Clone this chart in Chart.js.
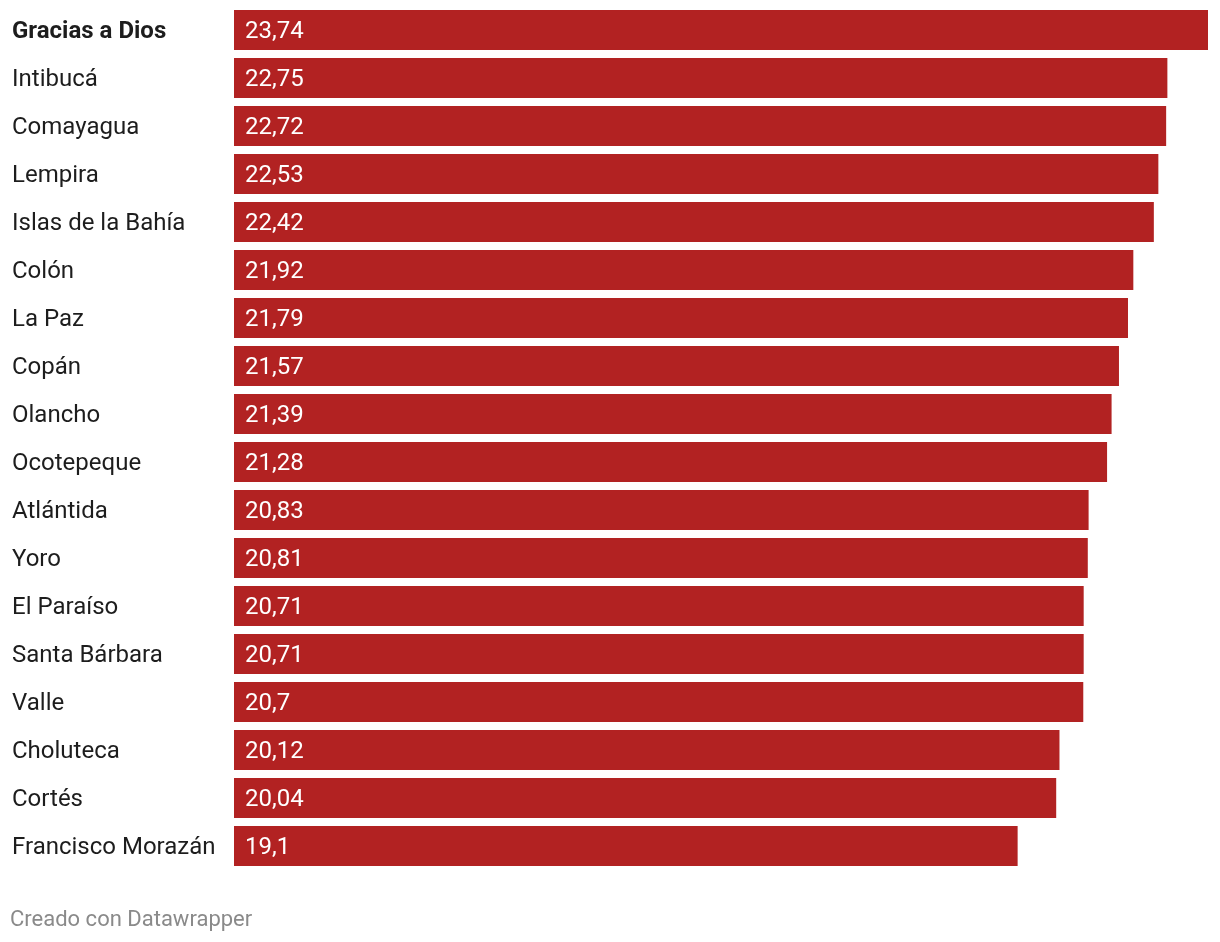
<!DOCTYPE html>
<html>
<head>
<meta charset="utf-8">
<script src="https://cdn.jsdelivr.net/npm/chart.js@4.4.1/dist/chart.umd.min.js"></script>
<style>
  body { margin: 0; background: #fff; font-family: Roboto, sans-serif; }
  #wrap { position: absolute; left: 0; top: 0; width: 1220px; height: 942px; }
  #footer { position: absolute; left: 10px; top: 906px; font-size: 22px; color: #8a8a8a; font-family: Roboto, sans-serif; }
</style>
</head>
<body>
<div id="wrap"><canvas id="myChart"></canvas></div>
<div id="footer">Creado con Datawrapper</div>
<script>
var departments = [
  "Gracias a Dios", "Intibucá", "Comayagua", "Lempira", "Islas de la Bahía",
  "Colón", "La Paz", "Copán", "Olancho", "Ocotepeque", "Atlántida", "Yoro",
  "El Paraíso", "Santa Bárbara", "Valle", "Choluteca", "Cortés", "Francisco Morazán"
];
var values = [
  23.74, 22.75, 22.72, 22.53, 22.42, 21.92, 21.79, 21.57, 21.39, 21.28,
  20.83, 20.81, 20.71, 20.71, 20.7, 20.12, 20.04, 19.1
];

var barColor = "#b22222";

// value labels drawn inside each bar
var valueLabels = {
  id: "valueLabels",
  afterDatasetsDraw: function (chart) {
    var ctx = chart.ctx;
    var meta = chart.getDatasetMeta(0);
    ctx.save();
    ctx.fillStyle = "#ffffff";
    ctx.font = "24px Roboto";
    ctx.textAlign = "left";
    ctx.textBaseline = "middle";
    meta.data.forEach(function (bar, i) {
      var txt = String(values[i]).replace(".", ",");
      ctx.fillText(txt, bar.base + 11, bar.y + 2);
    });
    ctx.restore();
  },
};

var ctx = document.getElementById("myChart").getContext("2d");
var myChart = new Chart(ctx, {
  type: "bar",
  data: {
    labels: departments,
    datasets: [
      {
        data: values,
        backgroundColor: barColor,
        borderWidth: 0,
        categoryPercentage: 1,
        barPercentage: 40 / 48,
      },
    ],
  },
  plugins: [valueLabels],
  options: {
    indexAxis: "y",
    responsive: true,
    maintainAspectRatio: false,
    animation: false,
    layout: { padding: { top: 6, bottom: 72, left: 12, right: 12 } },
    plugins: { legend: { display: false }, tooltip: { enabled: false } },
    scales: {
      x: { display: false, min: 0, max: 23.74 },
      y: {
        grid: { display: false },
        border: { display: false },
        afterFit: function (scale) {
          scale.width = 222;
          scale.paddingTop = 0;
          scale.paddingBottom = 0;
        },
        ticks: {
          crossAlign: "far",
          color: "#1d1d1d",
          padding: 0,
          labelOffset: 2,
          font: function (c) {
            return { family: "Roboto", size: 24, weight: c.index === 0 ? "bold" : "normal" };
          },
        },
      },
    },
  },
});
</script>
</body>
</html>
